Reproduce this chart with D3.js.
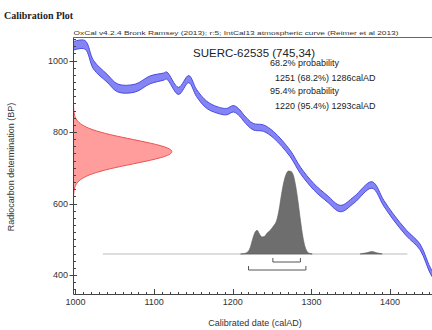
<!DOCTYPE html>
<html>
<head>
<meta charset="utf-8">
<script src="https://cdn.jsdelivr.net/npm/d3@7/dist/d3.min.js"></script>
<style>
  html, body { margin: 0; padding: 0; background: #fff; }
  svg { display: block; }
  text { font-family: "Liberation Sans", Arial, sans-serif; fill: #222; }
</style>
</head>
<body>
<svg id="chart" width="432" height="330"></svg>
<script>
// IntCal13 calibration curve (calendar year AD, radiocarbon age BP, 1-sigma half width)
const curveYears = [997.5, 1012, 1023, 1040, 1054, 1076, 1095, 1112, 1116, 1131, 1144, 1154, 1167, 1180, 1192, 1201, 1209, 1214, 1226, 1239, 1252, 1273, 1286, 1303, 1320, 1337, 1354, 1377, 1392, 1404, 1421, 1438, 1453, 1466];
const curveBP    = [1041, 1044, 988, 951, 923, 923, 946, 955, 958, 915, 948, 909, 876, 862, 857, 865, 853, 839, 815, 811, 792, 740, 693, 647, 614, 586, 610, 652, 601, 563, 517, 479, 405, 372];
const curveSigma = [12, 12, 12, 11, 11, 11, 11, 10, 10, 10, 10, 10, 10, 9, 9, 9, 9, 9, 9, 9, 9, 9, 9, 9, 9, 9, 9, 9, 8, 8, 8, 8, 8, 8];

// Radiocarbon measurement
const sampleName = "SUERC-62535";
const sampleMean = 745;
const sampleSD = 34;

// Calibrated probability distribution (relative probability)
const probYears = [1210, 1215, 1219, 1222, 1225, 1228, 1231, 1234, 1237, 1240, 1244, 1248, 1252, 1256, 1259, 1262, 1265, 1268, 1271, 1274, 1277, 1280, 1283, 1286, 1289, 1292, 1295, 1298, 1301, 1362, 1370, 1377, 1383, 1390];
const probValues = [0, 0.006, 0.024, 0.072, 0.17, 0.255, 0.285, 0.24, 0.205, 0.21, 0.255, 0.29, 0.34, 0.41, 0.54, 0.72, 0.87, 0.965, 1.0, 0.995, 0.95, 0.82, 0.63, 0.41, 0.215, 0.085, 0.025, 0.006, 0, 0, 0.014, 0.03, 0.014, 0];

// Highest probability ranges
const ranges = [
  { label: "68.2% probability", from: 1251, to: 1286, pct: "68.2%" },
  { label: "95.4% probability", from: 1220, to: 1293, pct: "95.4%" }
];

// Axes ticks
const xTicks = [1000, 1100, 1200, 1300, 1400];
const yTicks = [400, 600, 800, 1000];

const svg = d3.select("#chart");

const x = d3.scaleLinear().domain([997.5, 1463.5]).range([73.5, 440]);
const y = d3.scaleLinear().domain([347, 1063]).range([294, 38]);

// Title
svg.append("text")
  .attr("x", 4).attr("y", 19)
  .style("font-family", "'Liberation Serif', 'Times New Roman', serif")
  .style("font-weight", "bold")
  .style("font-size", "10px")
  .text("Calibration Plot");

// Header line
svg.append("text")
  .attr("x", 73.5).attr("y", 35)
  .style("font-size", "6px")
  .attr("textLength", 325)
  .attr("lengthAdjust", "spacingAndGlyphs")
  .style("fill", "#333")
  .text("OxCal v4.2.4 Bronk Ramsey (2013); r:5; IntCal13 atmospheric curve (Reimer et al 2013)");

svg.append("defs").append("clipPath").attr("id", "plotclip")
  .append("rect").attr("x", 73.5).attr("y", 38).attr("width", 370).attr("height", 256);

const plot = svg.append("g").attr("clip-path", "url(#plotclip)");

// Calibration curve band
const curve = curveYears.map((yr, i) => ({ yr, bp: curveBP[i], s: curveSigma[i] }));
const band = d3.area()
  .x(d => x(d.yr))
  .y0(d => y(d.bp - d.s))
  .y1(d => y(d.bp + d.s))
  .curve(d3.curveCatmullRom.alpha(0.5));
plot.append("path").datum(curve)
  .attr("d", band)
  .attr("fill", "#8484f4")
  .attr("stroke", "#4a4ae0")
  .attr("stroke-width", 1);

// Measurement distribution on the radiocarbon axis
const gauss = d3.range(-4, 4.001, 0.1).map(z => ({ bp: sampleMean + z * sampleSD, p: Math.exp(-0.5 * z * z) }));
const gx = d3.scaleLinear().domain([0, 1]).range([73.5, 172]);
plot.append("path").datum(gauss)
  .attr("d", d3.area().y(d => y(d.bp)).x0(gx(0)).x1(d => gx(d.p)).curve(d3.curveBasis))
  .attr("fill", "#ff9d9d")
  .attr("stroke", "#ee5050")
  .attr("stroke-width", 1);

// Calibrated distribution
const baseY = 254;
const py = d3.scaleLinear().domain([0, 1]).range([baseY, baseY - 83]);
plot.append("line")
  .attr("x1", x(1035)).attr("x2", x(1422))
  .attr("y1", baseY).attr("y2", baseY)
  .attr("stroke", "#bbbbbb").attr("stroke-width", 1);
const probMain = probYears.slice(0, 29).map((yr, i) => ({ yr, p: probValues[i] }));
const probMinor = probYears.slice(29).map((yr, i) => ({ yr, p: probValues[i + 29] }));
const probArea = d3.area().x(d => x(d.yr)).y0(py(0)).y1(d => py(d.p)).curve(d3.curveMonotoneX);
[probMain, probMinor].forEach(part => {
  plot.append("path").datum(part)
    .attr("d", probArea)
    .attr("fill", "#6e6e6e")
    .attr("stroke", "#5a5a5a")
    .attr("stroke-width", 0.6);
});

// Range brackets
[{ r: ranges[0], yy: 262 }, { r: ranges[1], yy: 270 }].forEach(({ r, yy }) => {
  const x1 = x(r.from), x2 = x(r.to);
  plot.append("path")
    .attr("d", `M${x1},${yy - 4}V${yy}H${x2}V${yy - 4}`)
    .attr("fill", "none")
    .attr("stroke", "#555")
    .attr("stroke-width", 1);
});

// Frame: top border
svg.append("line").attr("x1", 73.5).attr("x2", 432).attr("y1", 37.5).attr("y2", 37.5)
  .attr("stroke", "#666").attr("stroke-width", 1);

// Axes lines
const axisG = svg.append("g").attr("stroke", "#444").attr("stroke-width", 1).attr("fill", "none");
axisG.append("line").attr("x1", 73.5).attr("x2", 73.5).attr("y1", 37.5).attr("y2", 294.5);
axisG.append("line").attr("x1", 73.5).attr("x2", 432).attr("y1", 294.5).attr("y2", 294.5);

// Y ticks
d3.range(360, 1061, 20).forEach(v => {
  const yy = Math.round(y(v)) + 0.5;
  const major = v % 200 === 0;
  axisG.append("line")
    .attr("x1", major ? 69.5 : 73.5).attr("x2", major ? 77 : 76)
    .attr("y1", yy).attr("y2", yy);
});
yTicks.forEach(v => {
  svg.append("text")
    .attr("x", 68).attr("y", y(v) + 3.2)
    .attr("text-anchor", "end")
    .style("font-size", "9px")
    .style("fill", "#333")
    .text(v);
});

// X ticks
d3.range(1000, 1461, 10).forEach(v => {
  const xx = Math.round(x(v)) + 0.5;
  const major = v % 100 === 0;
  axisG.append("line")
    .attr("x1", xx).attr("x2", xx)
    .attr("y1", 294.5).attr("y2", major ? 289 : 292);
});
xTicks.forEach(v => {
  svg.append("text")
    .attr("x", x(v)).attr("y", 305)
    .attr("text-anchor", "middle")
    .style("font-size", "9px")
    .style("fill", "#333")
    .text(v);
});

// Axis titles
svg.append("text")
  .attr("transform", "translate(14,167) rotate(-90)")
  .attr("text-anchor", "middle")
  .style("font-size", "9px")
  .style("fill", "#333")
  .text("Radiocarbon determination (BP)");
svg.append("text")
  .attr("x", 255).attr("y", 326)
  .attr("text-anchor", "middle")
  .style("font-size", "9px")
  .style("fill", "#333")
  .text("Calibrated date (calAD)");

// Sample annotation
svg.append("text")
  .attr("x", 193).attr("y", 56.5)
  .style("font-size", "11.5px")
  .text(`${sampleName} (${sampleMean},${sampleSD})`);
ranges.forEach((r, i) => {
  svg.append("text")
    .attr("x", 270).attr("y", 66 + i * 28.3)
    .style("font-size", "9px")
    .text(r.label);
  svg.append("text")
    .attr("x", 275).attr("y", 80.5 + i * 28.3)
    .style("font-size", "9px")
    .text(`${r.from} (${r.pct}) ${r.to}calAD`);
});
</script>
</body>
</html>
